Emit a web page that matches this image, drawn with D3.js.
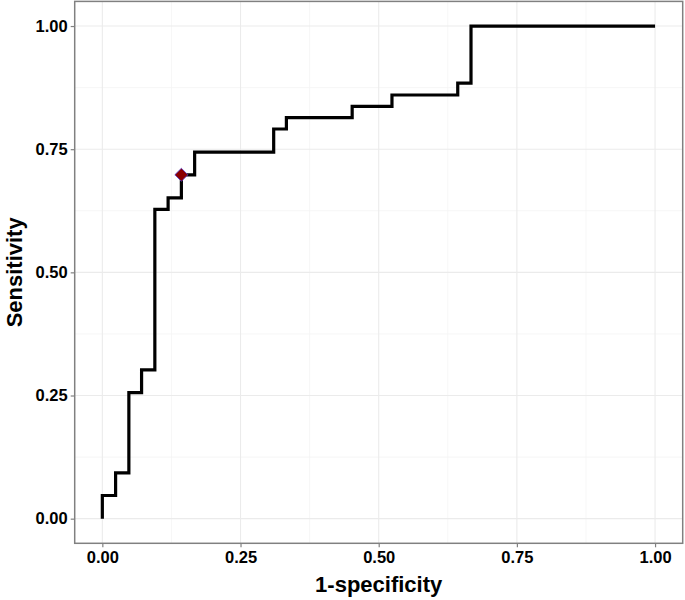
<!DOCTYPE html>
<html>
<head>
<meta charset="utf-8">
<script src="https://cdn.jsdelivr.net/npm/d3@7"></script>
<style>
  body { margin: 0; background: #fff; }
  text { font-family: "Liberation Sans", Arial, sans-serif; font-weight: bold; fill: #000; }
</style>
</head>
<body>
<svg id="chart" width="685" height="600"></svg>
<script>
// ROC points (1-specificity, sensitivity)
const fpr = [0, 0.024, 0.048, 0.071, 0.095, 0.119, 0.143, 0.167, 0.310, 0.333, 0.452, 0.524, 0.643, 0.667, 1.0];
const tpr = [0, 0.047, 0.093, 0.256, 0.302, 0.628, 0.651, 0.698, 0.744, 0.791, 0.814, 0.837, 0.860, 0.884, 1.0];
const cutX = [0.143];
const cutY = [0.698];
const ticks = [0, 0.25, 0.5, 0.75, 1];
const minorTicks = [0.125, 0.375, 0.625, 0.875];

const svg = d3.select("#chart");
const pLeft = 74.7, pRight = 682.7, pTop = 1.4, pBottom = 543.3;

const x = d3.scaleLinear().domain([-0.05, 1.05]).range([pLeft, pRight]);
const y = d3.scaleLinear().domain([-0.05, 1.05]).range([pBottom, pTop]);

// grid
const grid = svg.append("g");
grid.selectAll("line.mx").data(minorTicks).join("line")
  .attr("x1", d => x(d)).attr("x2", d => x(d)).attr("y1", pTop).attr("y2", pBottom)
  .attr("stroke", "#f4f4f4").attr("stroke-width", 0.8);
grid.selectAll("line.my").data(minorTicks).join("line")
  .attr("y1", d => y(d)).attr("y2", d => y(d)).attr("x1", pLeft).attr("x2", pRight)
  .attr("stroke", "#f4f4f4").attr("stroke-width", 0.8);
grid.selectAll("line.gx").data(ticks).join("line")
  .attr("x1", d => x(d)).attr("x2", d => x(d)).attr("y1", pTop).attr("y2", pBottom)
  .attr("stroke", "#ebebeb").attr("stroke-width", 1.1);
grid.selectAll("line.gy").data(ticks).join("line")
  .attr("y1", d => y(d)).attr("y2", d => y(d)).attr("x1", pLeft).attr("x2", pRight)
  .attr("stroke", "#ebebeb").attr("stroke-width", 1.1);

// roc curve
const pts = fpr.map((d, i) => [d, tpr[i]]);
const line = d3.line().x(d => x(d[0])).y(d => y(d[1])).curve(d3.curveStepBefore);
svg.append("path").datum(pts)
  .attr("d", line)
  .attr("fill", "none")
  .attr("stroke", "#000")
  .attr("stroke-width", 3.2);

// cutoff marker
const sym = d3.symbol().type(d3.symbolSquare).size(85);
svg.selectAll("path.cut").data(cutX).join("path")
  .attr("class", "cut")
  .attr("d", sym)
  .attr("transform", (d, i) => "translate(" + x(d) + "," + y(cutY[i]) + ") rotate(45)")
  .attr("fill", "#8b0000")
  .attr("stroke", "#5a3cc8")
  .attr("stroke-width", 0.8);

// panel border
svg.append("rect")
  .attr("x", pLeft).attr("y", pTop)
  .attr("width", pRight - pLeft).attr("height", pBottom - pTop)
  .attr("fill", "none").attr("stroke", "#808080").attr("stroke-width", 1.5);

// axes
const fmt = d3.format(".2f");
const xAxis = svg.append("g").attr("transform", "translate(0," + pBottom + ")")
  .call(d3.axisBottom(x).tickValues(ticks).tickFormat(fmt).tickSize(4).tickPadding(4));
const yAxis = svg.append("g").attr("transform", "translate(" + pLeft + ",0)")
  .call(d3.axisLeft(y).tickValues(ticks).tickFormat(fmt).tickSize(4).tickPadding(3));
[xAxis, yAxis].forEach(a => {
  a.select(".domain").remove();
  a.selectAll(".tick line").attr("stroke", "#808080").attr("stroke-width", 1.2);
  a.selectAll(".tick text").attr("font-size", 16.5).attr("font-family", "Liberation Sans, Arial, sans-serif").attr("fill", "#000");
});

svg.append("text")
  .attr("x", (pLeft + pRight) / 2).attr("y", 592)
  .attr("text-anchor", "middle").attr("font-size", 22)
  .text("1-specificity");
svg.append("text")
  .attr("transform", "translate(22," + (pTop + pBottom) / 2 + ") rotate(-90)")
  .attr("text-anchor", "middle").attr("font-size", 22)
  .text("Sensitivity");
</script>
</body>
</html>
